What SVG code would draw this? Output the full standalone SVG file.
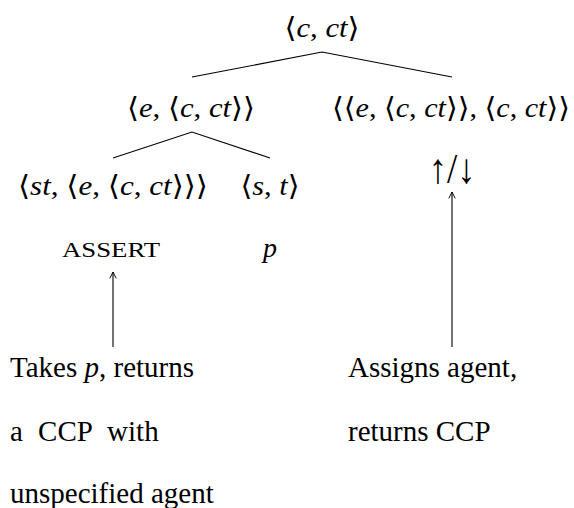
<svg xmlns="http://www.w3.org/2000/svg" width="574" height="508" viewBox="0 0 574 508">
<defs>
<style>
.m{font-family:"Liberation Serif","DejaVu Serif",serif;font-size:28px;fill:#000;text-anchor:middle}
.i{font-style:italic}
.t{font-family:"Liberation Serif","DejaVu Serif",serif;font-size:29px;fill:#000}
.sc{font-family:"Liberation Serif","DejaVu Serif",serif;font-size:20px;fill:#000;text-anchor:middle}
.ln{stroke:#000;stroke-width:1.1;fill:none}
</style>
<marker id="ah" viewBox="0 0 10 10" refX="9" refY="5" markerWidth="8" markerHeight="8" markerUnits="userSpaceOnUse" orient="auto">
<polyline points="1,1 9,5 1,9" fill="none" stroke="#000" stroke-width="1.2"/>
</marker>
</defs>
<g id="connectors">
<polyline class="ln" points="192,77 322,52 452,77"/>
<polyline class="ln" points="113,158 192,132 270,158"/>
<line class="ln" x1="113" y1="347" x2="113" y2="272" marker-end="url(#ah)"/>
<line class="ln" x1="452" y1="347" x2="452" y2="192" marker-end="url(#ah)"/>
</g>
<g id="root"><text class="m" x="322" y="37" textLength="75" lengthAdjust="spacingAndGlyphs">⟨<tspan class="i">c</tspan>, <tspan class="i">ct</tspan>⟩</text></g>
<g id="left2"><text class="m" x="191" y="117" textLength="128" lengthAdjust="spacingAndGlyphs">⟨<tspan class="i">e</tspan>, ⟨<tspan class="i">c</tspan>, <tspan class="i">ct</tspan>⟩⟩</text></g>
<g id="right2"><text class="m" x="451" y="117" textLength="238" lengthAdjust="spacingAndGlyphs">⟨⟨<tspan class="i">e</tspan>, ⟨<tspan class="i">c</tspan>, <tspan class="i">ct</tspan>⟩⟩, ⟨<tspan class="i">c</tspan>, <tspan class="i">ct</tspan>⟩⟩</text></g>
<g id="left3"><text class="m" x="113" y="195" textLength="190" lengthAdjust="spacingAndGlyphs">⟨<tspan class="i">st</tspan>, ⟨<tspan class="i">e</tspan>, ⟨<tspan class="i">c</tspan>, <tspan class="i">ct</tspan>⟩⟩⟩</text></g>
<g id="mid3"><text class="m" x="270" y="195" textLength="59" lengthAdjust="spacingAndGlyphs">⟨<tspan class="i">s</tspan>, <tspan class="i">t</tspan>⟩</text></g>
<g id="arrows"><text class="m" x="452" y="183" style="font-size:42px" textLength="47" lengthAdjust="spacingAndGlyphs">↑/↓</text></g>
<g id="assert"><text class="sc" x="111" y="257" textLength="98" lengthAdjust="spacingAndGlyphs">ASSERT</text></g>
<g id="p"><text class="m i" x="270" y="257">p</text></g>
<g id="note-left"><text class="t" x="10" y="377">Takes <tspan font-style="italic">p</tspan>, returns</text><text class="t" x="10" y="441" word-spacing="8">a CCP with</text><text class="t" x="10" y="503">unspecified agent</text></g>
<g id="note-right"><text class="t" x="348" y="377">Assigns agent,</text><text class="t" x="348" y="441">returns CCP</text></g>
</svg>
